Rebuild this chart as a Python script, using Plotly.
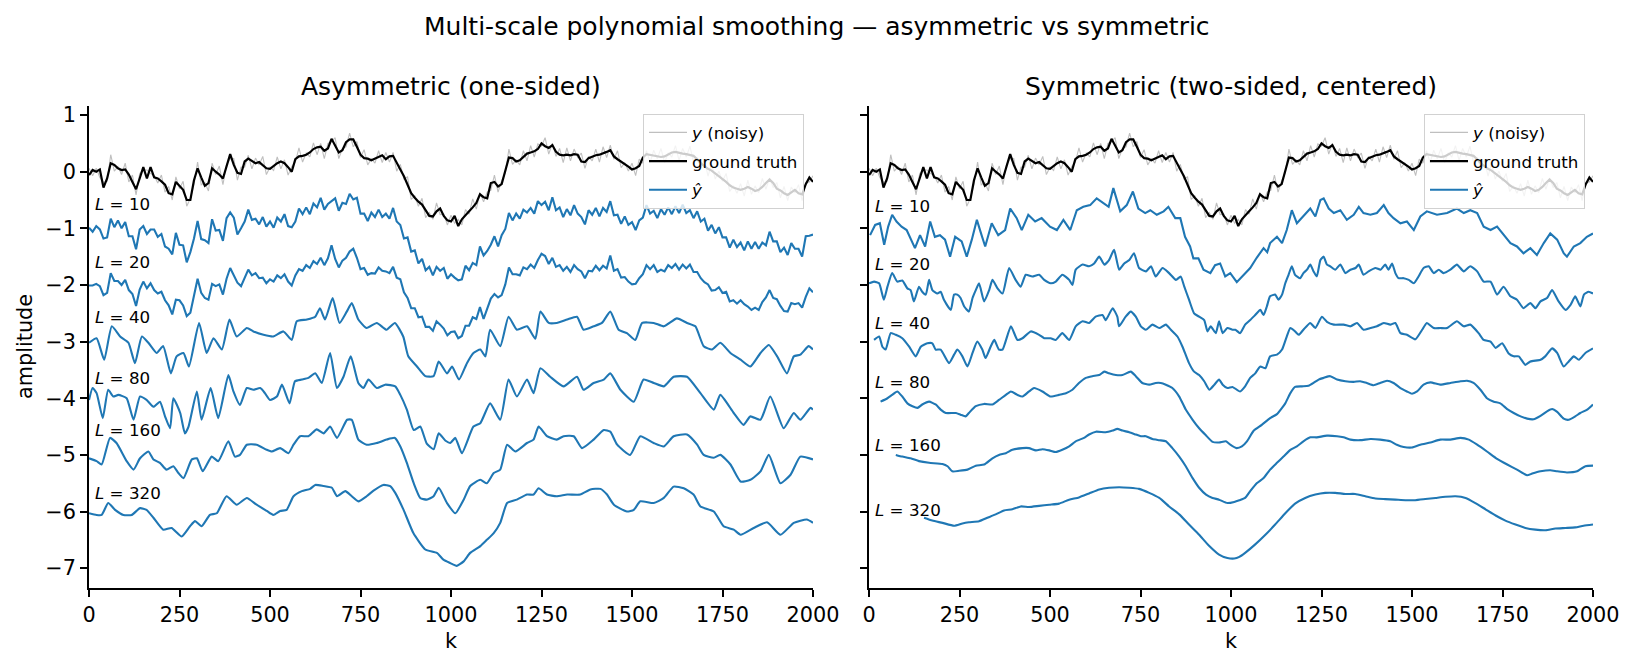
import plotly.graph_objects as go

FONT = "DejaVu Sans"
W, H = 1634, 667
BLUE = "#1f77b4"

# ---------------- data ----------------
STEP = 10  # sample spacing of the dense series (k units)

TRUTH = [-0.06, 0.03, 0.0, 0.04, -0.28, -0.12, 0.15, 0.12, 0.06, 0.03,
         0.04, -0.05, -0.18, -0.31, -0.12, 0.08, -0.12, 0.08, -0.1, -0.12,
         -0.17, -0.23, -0.38, -0.4, -0.18, -0.25, -0.32, -0.5, -0.5, -0.15,
         0.06, -0.1, -0.25, -0.2, 0.06, 0.0, -0.05, -0.12, 0.1, 0.31,
         0.12, -0.02, -0.04, 0.18, 0.23, 0.19, 0.15, 0.17, 0.12, 0.06,
         0.05, 0.1, 0.15, 0.18, 0.15, 0.08, 0.0, 0.22, 0.27, 0.28,
         0.3, 0.34, 0.4, 0.43, 0.44, 0.37, 0.41, 0.58, 0.45, 0.34,
         0.38, 0.52, 0.57, 0.57, 0.44, 0.3, 0.24, 0.23, 0.2, 0.23,
         0.26, 0.29, 0.22, 0.27, 0.28, 0.15, 0.04, -0.08, -0.24, -0.38,
         -0.46, -0.53, -0.58, -0.68, -0.78, -0.79, -0.7, -0.65, -0.78, -0.86,
         -0.88, -0.78, -0.96, -0.84, -0.76, -0.7, -0.63, -0.55, -0.4, -0.45,
         -0.47, -0.2, -0.18, -0.26, -0.22, 0.03, 0.25, 0.24, 0.18, 0.2,
         0.26, 0.32, 0.34, 0.36, 0.4, 0.5, 0.45, 0.42, 0.47, 0.35,
         0.3, 0.29, 0.3, 0.29, 0.31, 0.3, 0.18, 0.17, 0.24, 0.27,
         0.29, 0.3, 0.32, 0.35, 0.38, 0.27, 0.22, 0.18, 0.13, 0.09,
         0.04, 0.06, 0.1, 0.25, 0.31, 0.3, 0.29, 0.28, 0.26, 0.27,
         0.3, 0.34, 0.35, 0.33, 0.32, 0.31, 0.3, 0.28, 0.22, 0.15,
         0.1, 0.05, 0.02, -0.03, -0.08, -0.12, -0.18, -0.24, -0.28, -0.3,
         -0.32, -0.3, -0.27, -0.3, -0.34, -0.32, -0.27, -0.2, -0.14, -0.2,
         -0.3, -0.33, -0.38, -0.41, -0.36, -0.32, -0.38, -0.4, -0.22, -0.1,
         -0.18]

NOISY = [0.06, -0.07, 0.06, -0.10, -0.19, -0.17, 0.30, 0.01, 0.09, -0.05,
         0.15, -0.18, -0.06, -0.41, -0.03, 0.03, 0.03, -0.03, -0.07, -0.20,
         -0.06, -0.36, -0.26, -0.50, -0.09, -0.30, -0.17, -0.61, -0.47, -0.23,
         0.17, -0.23, -0.19, -0.34, 0.15, -0.05, 0.10, -0.23, 0.13, 0.23,
         0.23, -0.15, 0.08, 0.08, 0.29, 0.05, 0.24, 0.12, 0.27, -0.05,
         0.08, 0.02, 0.26, 0.05, 0.21, -0.06, 0.09, 0.17, 0.42, 0.17,
         0.33, 0.26, 0.51, 0.30, 0.50, 0.23, 0.50, 0.53, 0.60, 0.23,
         0.41, 0.44, 0.68, 0.44, 0.53, 0.25, 0.39, 0.12, 0.23, 0.15,
         0.37, 0.16, 0.34, 0.17, 0.34, 0.01, 0.13, -0.13, -0.09, -0.49,
         -0.43, -0.61, -0.47, -0.81, -0.72, -0.84, -0.55, -0.76, -0.75, -0.94,
         -0.77, -0.91, -0.84, -0.94, -0.67, -0.75, -0.48, -0.66, -0.37, -0.53,
         -0.36, -0.33, -0.06, -0.36, -0.16, -0.02, 0.40, 0.13, 0.21, 0.12,
         0.37, 0.19, 0.46, 0.26, 0.49, 0.45, 0.60, 0.31, 0.50, 0.27,
         0.41, 0.16, 0.42, 0.19, 0.40, 0.25, 0.33, 0.06, 0.27, 0.19,
         0.40, 0.17, 0.44, 0.25, 0.47, 0.22, 0.37, 0.07, 0.16, 0.01,
         0.15, -0.07, 0.22, 0.15, 0.37, 0.16, 0.38, 0.23, 0.41, 0.16,
         0.33, 0.26, 0.46, 0.20, 0.41, 0.26, 0.45, 0.17, 0.25, 0.07,
         0.21, -0.08, 0.14, -0.13, 0.01, -0.17, -0.03, -0.35, -0.25, -0.38,
         -0.21, -0.43, -0.15, -0.40, -0.25, -0.37, -0.12, -0.31, -0.11, -0.28,
         -0.19, -0.46, -0.26, -0.51, -0.27, -0.37, -0.23, -0.51, -0.19, -0.18,
         -0.07]

ASYM_L10 = [-0.99, -1.06, -0.96, -1.02, -1.18, -1.16, -0.83, -0.98, -0.86, -1.00,
            -0.89, -1.14, -1.14, -1.37, -1.02, -0.96, -1.10, -1.02, -1.02, -1.15,
            -1.10, -1.32, -1.36, -1.46, -1.08, -1.29, -1.30, -1.60, -1.42, -1.18,
            -0.87, -1.19, -1.21, -1.26, -0.84, -1.04, -1.03, -1.22, -0.82, -0.72,
            -0.81, -1.11, -1.00, -0.88, -0.67, -0.85, -0.83, -0.93, -0.80, -0.97,
            -0.88, -0.99, -0.81, -0.88, -0.75, -0.96, -0.98, -0.88, -0.65, -0.75,
            -0.63, -0.75, -0.56, -0.63, -0.46, -0.67, -0.57, -0.52, -0.47, -0.69,
            -0.55, -0.57, -0.39, -0.49, -0.46, -0.74, -0.74, -0.87, -0.72, -0.80,
            -0.67, -0.80, -0.74, -0.83, -0.64, -0.88, -0.94, -1.18, -1.16, -1.41,
            -1.39, -1.62, -1.54, -1.74, -1.68, -1.83, -1.68, -1.75, -1.70, -1.89,
            -1.81, -1.87, -1.92, -1.90, -1.66, -1.74, -1.61, -1.65, -1.32, -1.48,
            -1.40, -1.29, -1.14, -1.32, -1.12, -1.01, -0.73, -0.86, -0.74, -0.83,
            -0.67, -0.72, -0.64, -0.74, -0.52, -0.59, -0.53, -0.68, -0.45, -0.68,
            -0.63, -0.80, -0.66, -0.77, -0.59, -0.74, -0.80, -0.93, -0.68, -0.76,
            -0.64, -0.79, -0.64, -0.71, -0.52, -0.77, -0.76, -0.92, -0.79, -0.94,
            -0.89, -1.03, -0.86, -0.81, -0.59, -0.74, -0.69, -0.82, -0.66, -0.76,
            -0.63, -0.75, -0.61, -0.73, -0.58, -0.73, -0.68, -0.82, -0.70, -0.88,
            -0.83, -1.04, -0.94, -1.09, -0.98, -1.16, -1.16, -1.34, -1.20, -1.33,
            -1.25, -1.39, -1.23, -1.36, -1.24, -1.36, -1.25, -1.30, -1.06, -1.23,
            -1.23, -1.42, -1.34, -1.47, -1.26, -1.36, -1.36, -1.50, -1.14, -1.13,
            -1.11]

ASYM_L20 = [-2.01, -2.01, -1.98, -2.02, -2.18, -2.14, -1.79, -1.93, -1.93, -2.00,
            -1.91, -2.09, -2.16, -2.37, -2.08, -1.94, -2.06, -1.97, -2.09, -2.15,
            -2.12, -2.27, -2.36, -2.52, -2.26, -2.27, -2.36, -2.55, -2.49, -2.18,
            -1.89, -2.14, -2.23, -2.26, -1.98, -2.02, -1.99, -2.17, -1.89, -1.70,
            -1.83, -1.96, -2.02, -1.88, -1.73, -1.83, -1.79, -1.88, -1.87, -1.97,
            -1.90, -1.94, -1.83, -1.88, -1.81, -1.94, -2.01, -1.83, -1.72, -1.75,
            -1.65, -1.70, -1.58, -1.63, -1.52, -1.65, -1.53, -1.30, -1.54, -1.69,
            -1.57, -1.52, -1.41, -1.36, -1.52, -1.72, -1.70, -1.82, -1.79, -1.80,
            -1.69, -1.75, -1.76, -1.79, -1.68, -1.87, -1.90, -2.13, -2.23, -2.41,
            -2.41, -2.57, -2.56, -2.74, -2.74, -2.81, -2.64, -2.70, -2.77, -2.89,
            -2.83, -2.82, -2.94, -2.90, -2.72, -2.72, -2.57, -2.60, -2.39, -2.60,
            -2.42, -2.24, -2.16, -2.22, -2.18, -1.99, -1.69, -1.81, -1.81, -1.83,
            -1.69, -1.72, -1.64, -1.70, -1.56, -1.45, -1.49, -1.63, -1.52, -1.68,
            -1.65, -1.75, -1.68, -1.77, -1.65, -1.72, -1.76, -1.88, -1.75, -1.76,
            -1.66, -1.74, -1.66, -1.71, -1.48, -1.75, -1.72, -1.87, -1.86, -1.94,
            -1.99, -1.98, -1.88, -1.81, -1.65, -1.72, -1.65, -1.77, -1.73, -1.76,
            -1.65, -1.70, -1.63, -1.73, -1.64, -1.71, -1.64, -1.77, -1.77, -1.88,
            -1.95, -1.99, -2.10, -2.09, -2.04, -2.14, -2.12, -2.29, -2.27, -2.33,
            -2.27, -2.34, -2.38, -2.44, -2.40, -2.44, -2.30, -2.22, -2.09, -2.23,
            -2.25, -2.37, -2.46, -2.47, -2.32, -2.34, -2.32, -2.40, -2.21, -2.06,
            -2.13]

ASYM_L40 = [(0, -3.02), (21, -2.94), (42, -3.32), (63, -2.73), (86, -2.91), (109, -3.02),
            (127, -3.38), (146, -2.91), (164, -3.02), (187, -3.2), (205, -3.08), (226, -3.56),
            (242, -3.26), (261, -3.2), (276, -3.44), (304, -2.67), (325, -3.2), (344, -2.94),
            (367, -3.14), (388, -2.61), (408, -2.91), (436, -2.76), (454, -2.82), (482, -2.88),
            (509, -2.91), (537, -2.82), (560, -2.97), (574, -2.64), (602, -2.61), (625, -2.56),
            (638, -2.41), (652, -2.61), (673, -2.23), (692, -2.67), (712, -2.47), (726, -2.32),
            (744, -2.61), (767, -2.76), (795, -2.67), (822, -2.79), (845, -2.67), (868, -2.91),
            (882, -3.26), (906, -3.44), (929, -3.61), (952, -3.61), (966, -3.35), (989, -3.56),
            (1003, -3.44), (1022, -3.67), (1044, -3.38), (1062, -3.2), (1081, -3.14), (1095, -3.26),
            (1108, -2.79), (1136, -3.08), (1159, -2.56), (1182, -2.79), (1210, -2.73), (1233, -2.95),
            (1247, -2.47), (1270, -2.67), (1292, -2.67), (1321, -2.61), (1348, -2.56), (1366, -2.79),
            (1394, -2.73), (1417, -2.67), (1440, -2.47), (1463, -2.79), (1486, -2.85), (1509, -2.97),
            (1528, -2.67), (1560, -2.67), (1588, -2.73), (1624, -2.59), (1652, -2.67), (1675, -2.73),
            (1698, -3.08), (1721, -3.14), (1744, -3.02), (1772, -3.2), (1800, -3.32), (1827, -3.44),
            (1855, -3.2), (1878, -3.06), (1901, -3.26), (1928, -3.56), (1947, -3.26), (1965, -3.23),
            (1988, -3.08), (2000, -3.14)]

ASYM_L80 = [(0, -4.03), (10, -3.82), (21, -3.91), (38, -4.35), (53, -3.85), (67, -3.97),
            (81, -3.94), (104, -4.0), (123, -4.38), (141, -3.97), (159, -4.03), (178, -4.15),
            (196, -4.06), (210, -4.32), (224, -4.53), (233, -4.0), (252, -4.26), (265, -4.62),
            (275, -4.5), (298, -3.88), (311, -4.38), (336, -3.82), (357, -4.35), (385, -3.59),
            (399, -3.88), (417, -4.12), (436, -3.82), (454, -3.85), (473, -3.82), (486, -3.91),
            (500, -4.03), (519, -3.97), (533, -3.76), (554, -4.09), (569, -3.7), (588, -3.67),
            (606, -3.64), (625, -3.56), (643, -3.73), (666, -3.2), (685, -3.82), (703, -3.62),
            (723, -3.26), (744, -3.73), (758, -3.82), (772, -3.67), (795, -3.82), (818, -3.76),
            (846, -3.79), (860, -3.94), (878, -4.2), (897, -4.56), (915, -4.5), (933, -4.8),
            (952, -4.9), (966, -4.62), (985, -4.75), (998, -4.79), (1012, -4.7), (1030, -4.97),
            (1062, -4.5), (1081, -4.44), (1108, -4.09), (1136, -4.38), (1159, -3.67), (1182, -3.97),
            (1210, -3.67), (1228, -3.91), (1247, -3.47), (1274, -3.62), (1311, -3.79), (1348, -3.62),
            (1366, -3.85), (1394, -3.73), (1422, -3.67), (1440, -3.56), (1468, -3.85), (1505, -4.06),
            (1532, -3.67), (1560, -3.73), (1588, -3.79), (1615, -3.62), (1652, -3.62), (1689, -3.91),
            (1726, -4.2), (1744, -3.94), (1781, -4.26), (1808, -4.47), (1827, -4.32), (1855, -4.38),
            (1882, -3.97), (1919, -4.53), (1947, -4.26), (1965, -4.38), (1993, -4.17), (2000, -4.2)]

ASYM_L160 = [(0, -5.06), (21, -5.11), (35, -5.17), (58, -4.70), (76, -4.79), (104, -5.11),
             (123, -5.26), (141, -5.06), (164, -4.94), (178, -5.08), (196, -5.14), (214, -5.26),
             (233, -5.2), (247, -5.32), (261, -5.41), (284, -5.08), (298, -5.06), (314, -5.29),
             (339, -5.03), (357, -5.11), (385, -4.76), (403, -5.03), (417, -5.0), (436, -4.82),
             (463, -4.82), (491, -4.91), (505, -4.94), (528, -4.88), (551, -4.97), (565, -4.82),
             (583, -4.67), (606, -4.67), (629, -4.55), (648, -4.62), (666, -4.5), (685, -4.70),
             (713, -4.38), (726, -4.38), (744, -4.73), (767, -4.82), (795, -4.79), (822, -4.73),
             (845, -4.70), (860, -4.85), (878, -5.14), (897, -5.5), (915, -5.76), (933, -5.79),
             (952, -5.73), (966, -5.58), (989, -5.85), (1012, -6.03), (1035, -5.79), (1053, -5.55),
             (1081, -5.44), (1099, -5.5), (1118, -5.32), (1136, -5.26), (1155, -4.82), (1178, -4.94),
             (1210, -4.79), (1228, -4.73), (1242, -4.5), (1265, -4.67), (1292, -4.73), (1311, -4.67),
             (1339, -4.67), (1362, -4.88), (1394, -4.73), (1422, -4.56), (1440, -4.59), (1459, -4.82),
             (1495, -5.0), (1523, -4.67), (1560, -4.79), (1588, -4.85), (1615, -4.67), (1652, -4.64),
             (1680, -4.82), (1698, -5.0), (1726, -5.05), (1744, -5.0), (1772, -5.17), (1800, -5.47),
             (1827, -5.44), (1855, -5.29), (1878, -5.0), (1910, -5.5), (1938, -5.35), (1965, -5.03),
             (2000, -5.08)]

ASYM_L320 = [(0, -6.03), (21, -6.06), (35, -6.06), (53, -5.85), (72, -5.97), (95, -6.06),
             (118, -6.06), (141, -5.94), (159, -5.97), (178, -6.11), (205, -6.32), (228, -6.29),
             (256, -6.44), (279, -6.26), (293, -6.17), (311, -6.26), (334, -6.06), (353, -6.03),
             (380, -5.73), (408, -5.88), (436, -5.76), (463, -5.88), (491, -5.99), (509, -6.06),
             (528, -5.99), (546, -5.97), (565, -5.73), (588, -5.64), (611, -5.6), (625, -5.53),
             (648, -5.55), (671, -5.58), (685, -5.73), (708, -5.64), (726, -5.73), (744, -5.82),
             (767, -5.73), (786, -5.63), (813, -5.53), (832, -5.55), (846, -5.67), (869, -5.97),
             (896, -6.38), (929, -6.67), (961, -6.73), (979, -6.85), (998, -6.91), (1016, -6.96),
             (1035, -6.88), (1053, -6.73), (1081, -6.61), (1099, -6.5), (1118, -6.38), (1136, -6.2),
             (1155, -5.85), (1182, -5.79), (1210, -5.7), (1228, -5.7), (1242, -5.59), (1265, -5.7),
             (1292, -5.73), (1321, -5.7), (1357, -5.7), (1385, -5.61), (1413, -5.6), (1431, -5.7),
             (1450, -5.88), (1486, -6.0), (1505, -5.97), (1523, -5.82), (1560, -5.85), (1588, -5.76),
             (1615, -5.56), (1643, -5.59), (1670, -5.7), (1689, -5.91), (1726, -6.0), (1753, -6.26),
             (1781, -6.32), (1800, -6.41), (1836, -6.29), (1873, -6.19), (1910, -6.41), (1947, -6.2),
             (1983, -6.14), (2000, -6.2)]

SYM_L10 = [(3, -1.12), (17, -0.94), (30, -0.91), (42, -1.29), (53, -0.97), (64, -0.76),
           (76, -0.88), (90, -0.97), (104, -1.03), (113, -1.15), (127, -1.35), (141, -1.12),
           (155, -1.32), (169, -0.88), (182, -1.15), (196, -1.12), (210, -1.2), (224, -1.5),
           (238, -1.15), (256, -1.23), (270, -1.5), (284, -1.2), (298, -0.85), (311, -1.12),
           (321, -1.32), (339, -0.91), (357, -1.12), (376, -1.03), (390, -0.65), (408, -0.82),
           (422, -1.03), (440, -0.76), (459, -0.88), (477, -0.82), (500, -0.97), (519, -1.03),
           (537, -0.85), (556, -1.03), (574, -0.68), (592, -0.62), (611, -0.59), (629, -0.47),
           (648, -0.56), (662, -0.62), (675, -0.29), (694, -0.7), (712, -0.59), (729, -0.35),
           (744, -0.65), (763, -0.73), (777, -0.68), (795, -0.76), (814, -0.7), (827, -0.62),
           (846, -0.82), (860, -0.82), (873, -1.15), (887, -1.32), (896, -1.53), (910, -1.53),
           (924, -1.73), (943, -1.79), (956, -1.65), (970, -1.62), (984, -1.85), (998, -1.79),
           (1016, -1.95), (1035, -1.82), (1053, -1.7), (1071, -1.52), (1090, -1.35), (1100, -1.42),
           (1108, -1.26), (1127, -1.15), (1141, -1.26), (1154, -1.03), (1168, -0.68), (1182, -0.91),
           (1200, -0.79), (1219, -0.65), (1233, -0.79), (1247, -0.50), (1256, -0.47), (1270, -0.65),
           (1284, -0.73), (1302, -0.68), (1320, -0.85), (1339, -0.76), (1353, -0.62), (1366, -0.73),
           (1385, -0.76), (1403, -0.73), (1422, -0.59), (1435, -0.73), (1449, -0.82), (1468, -0.91),
           (1486, -0.88), (1505, -1.03), (1523, -0.79), (1541, -0.70), (1569, -0.76), (1597, -0.73),
           (1624, -0.65), (1643, -0.73), (1661, -0.68), (1680, -0.73), (1698, -0.97), (1717, -1.03),
           (1735, -0.97), (1753, -1.12), (1772, -1.26), (1790, -1.32), (1808, -1.44), (1827, -1.35),
           (1845, -1.47), (1864, -1.26), (1882, -1.09), (1901, -1.20), (1919, -1.44), (1928, -1.50),
           (1947, -1.32), (1965, -1.26), (1983, -1.15), (2000, -1.09)]

SYM_L20 = [(0, -1.97), (14, -1.94), (28, -1.97), (41, -2.26), (51, -2.03), (64, -1.79),
           (78, -1.94), (92, -1.92), (106, -2.06), (115, -2.09), (124, -2.29), (138, -2.03),
           (147, -2.12), (157, -2.17), (166, -1.91), (175, -2.09), (189, -2.15), (198, -2.12),
           (207, -2.26), (226, -2.44), (235, -2.17), (244, -2.17), (253, -2.23), (263, -2.38),
           (276, -2.47), (286, -2.23), (295, -2.09), (304, -1.97), (318, -2.29), (332, -2.09),
           (341, -1.91), (355, -2.06), (369, -2.15), (387, -1.70), (405, -1.91), (419, -2.03),
           (433, -1.82), (451, -1.85), (470, -1.82), (484, -1.91), (502, -1.97), (516, -1.94),
           (534, -1.82), (553, -1.91), (562, -2.0), (571, -1.73), (590, -1.64), (608, -1.67),
           (622, -1.62), (636, -1.5), (650, -1.64), (663, -1.56), (677, -1.38), (691, -1.73),
           (705, -1.62), (719, -1.56), (732, -1.44), (746, -1.70), (765, -1.76), (779, -1.67),
           (792, -1.85), (811, -1.70), (829, -1.79), (848, -1.91), (861, -1.85), (871, -2.03),
           (884, -2.26), (898, -2.5), (912, -2.56), (926, -2.62), (935, -2.82), (944, -2.73),
           (958, -2.85), (967, -2.64), (977, -2.85), (990, -2.76), (1004, -2.79), (1012, -2.79),
           (1025, -2.85), (1039, -2.70), (1053, -2.62), (1067, -2.53), (1081, -2.44), (1090, -2.53),
           (1099, -2.38), (1108, -2.20), (1122, -2.17), (1131, -2.26), (1141, -2.17), (1150, -1.97),
           (1159, -1.82), (1168, -1.67), (1177, -1.82), (1191, -1.88), (1200, -1.79), (1210, -1.73),
           (1219, -1.64), (1228, -1.76), (1237, -1.85), (1247, -1.56), (1256, -1.50), (1265, -1.64),
           (1274, -1.67), (1288, -1.73), (1302, -1.64), (1316, -1.79), (1330, -1.73), (1344, -1.70),
           (1353, -1.64), (1366, -1.82), (1380, -1.76), (1399, -1.70), (1413, -1.73), (1426, -1.64),
           (1435, -1.73), (1445, -1.62), (1454, -1.79), (1463, -1.88), (1477, -1.88), (1491, -1.91),
           (1505, -1.97), (1518, -1.85), (1532, -1.70), (1546, -1.67), (1560, -1.79), (1574, -1.73),
           (1587, -1.79), (1606, -1.73), (1624, -1.64), (1643, -1.76), (1661, -1.67), (1680, -1.76),
           (1698, -1.94), (1717, -1.94), (1735, -2.17), (1753, -2.03), (1772, -2.20), (1790, -2.26),
           (1808, -2.41), (1827, -2.32), (1841, -2.41), (1855, -2.29), (1873, -2.23), (1887, -2.09),
           (1905, -2.29), (1924, -2.44), (1938, -2.35), (1951, -2.20), (1965, -2.38), (1975, -2.17),
           (1988, -2.12), (2000, -2.15)]

SYM_L40 = [(14, -2.97), (28, -2.91), (37, -3.09), (46, -3.14), (60, -2.85), (74, -2.88),
           (92, -2.94), (111, -3.09), (129, -3.26), (143, -3.09), (161, -3.03), (175, -3.03),
           (184, -3.14), (198, -3.14), (221, -3.38), (235, -3.23), (244, -3.14), (258, -3.26),
           (272, -3.44), (286, -3.2), (299, -3.0), (313, -3.14), (322, -3.29), (336, -3.09),
           (346, -2.97), (359, -3.14), (369, -3.14), (392, -2.73), (410, -2.97), (424, -2.94),
           (447, -2.82), (470, -2.88), (484, -2.94), (502, -2.94), (516, -2.97), (534, -2.85),
           (553, -2.97), (571, -2.73), (590, -2.64), (608, -2.67), (626, -2.56), (645, -2.53),
           (654, -2.62), (673, -2.41), (686, -2.56), (691, -2.73), (709, -2.56), (723, -2.47),
           (737, -2.56), (751, -2.73), (765, -2.79), (783, -2.70), (802, -2.76), (820, -2.70),
           (834, -2.79), (852, -2.91), (866, -3.09), (884, -3.38), (898, -3.53), (912, -3.59),
           (926, -3.70), (940, -3.85), (954, -3.76), (967, -3.67), (977, -3.76), (990, -3.82),
           (1004, -3.80), (1025, -3.88), (1039, -3.79), (1053, -3.64), (1067, -3.56), (1081, -3.44),
           (1095, -3.47), (1108, -3.26), (1127, -3.23), (1141, -3.14), (1154, -2.91), (1164, -2.76),
           (1177, -2.82), (1187, -2.88), (1200, -2.79), (1219, -2.67), (1233, -2.76), (1251, -2.56),
           (1265, -2.65), (1284, -2.70), (1311, -2.70), (1330, -2.73), (1348, -2.67), (1366, -2.79),
           (1385, -2.76), (1403, -2.73), (1422, -2.67), (1440, -2.70), (1454, -2.67), (1468, -2.85),
           (1486, -2.88), (1509, -2.96), (1528, -2.79), (1541, -2.67), (1560, -2.76), (1578, -2.76),
           (1597, -2.76), (1624, -2.64), (1643, -2.73), (1661, -2.70), (1684, -2.85), (1698, -2.97),
           (1717, -3.0), (1731, -3.11), (1749, -3.03), (1767, -3.21), (1781, -3.26), (1795, -3.26),
           (1813, -3.41), (1827, -3.35), (1855, -3.32), (1868, -3.26), (1887, -3.12), (1901, -3.20),
           (1919, -3.44), (1933, -3.35), (1947, -3.26), (1961, -3.32), (1979, -3.20), (2000, -3.12)]

SYM_L80 = [(32, -4.06), (51, -4.0), (64, -3.94), (78, -3.88), (92, -3.97), (106, -4.09),
           (120, -4.14), (134, -4.17), (147, -4.11), (166, -4.06), (184, -4.11), (198, -4.2),
           (212, -4.26), (240, -4.26), (253, -4.29), (267, -4.32), (276, -4.26), (295, -4.14),
           (318, -4.10), (341, -4.11), (359, -4.03), (378, -3.94), (392, -3.88), (410, -3.94),
           (424, -3.97), (442, -3.88), (456, -3.82), (479, -3.88), (502, -3.97), (525, -3.94),
           (544, -3.91), (562, -3.85), (580, -3.73), (599, -3.64), (617, -3.61), (636, -3.59),
           (650, -3.53), (663, -3.56), (682, -3.59), (700, -3.59), (723, -3.53), (737, -3.61),
           (755, -3.73), (774, -3.76), (792, -3.73), (806, -3.73), (820, -3.76), (838, -3.82),
           (857, -3.97), (875, -4.2), (894, -4.38), (912, -4.53), (930, -4.65), (949, -4.77),
           (967, -4.78), (986, -4.76), (998, -4.82), (1015, -4.88), (1030, -4.85), (1044, -4.76),
           (1063, -4.57), (1085, -4.47), (1108, -4.35), (1127, -4.28), (1141, -4.17), (1150, -4.09),
           (1164, -3.91), (1177, -3.80), (1196, -3.79), (1214, -3.78), (1228, -3.73), (1242, -3.67),
           (1256, -3.64), (1274, -3.61), (1293, -3.67), (1316, -3.70), (1339, -3.71), (1357, -3.70),
           (1375, -3.73), (1394, -3.77), (1412, -3.73), (1431, -3.69), (1449, -3.73), (1468, -3.82),
           (1486, -3.88), (1500, -3.92), (1514, -3.88), (1532, -3.76), (1551, -3.72), (1578, -3.76),
           (1606, -3.73), (1634, -3.70), (1652, -3.69), (1670, -3.73), (1689, -3.85), (1707, -4.0),
           (1726, -4.06), (1744, -4.09), (1763, -4.19), (1781, -4.26), (1800, -4.32), (1818, -4.36),
           (1836, -4.37), (1855, -4.31), (1873, -4.23), (1887, -4.19), (1901, -4.24), (1919, -4.36),
           (1933, -4.38), (1951, -4.32), (1965, -4.26), (1984, -4.20), (2000, -4.11)]

SYM_L160 = [(74, -5.0), (92, -5.03), (115, -5.06), (138, -5.11), (166, -5.14), (203, -5.16),
            (217, -5.20), (230, -5.29), (249, -5.28), (272, -5.26), (295, -5.19), (318, -5.17),
            (341, -5.06), (359, -5.0), (378, -4.97), (396, -4.91), (424, -4.88), (442, -4.88),
            (461, -4.92), (479, -4.90), (498, -4.92), (516, -4.95), (534, -4.91), (553, -4.85),
            (571, -4.76), (594, -4.70), (608, -4.64), (627, -4.59), (654, -4.60), (673, -4.57),
            (686, -4.54), (700, -4.57), (719, -4.60), (737, -4.64), (751, -4.67), (765, -4.67),
            (783, -4.72), (802, -4.74), (820, -4.76), (838, -4.88), (857, -5.03), (875, -5.20),
            (894, -5.41), (912, -5.58), (931, -5.70), (949, -5.76), (967, -5.79), (990, -5.85),
            (1009, -5.83), (1023, -5.80), (1039, -5.76), (1053, -5.64), (1071, -5.50), (1090, -5.41),
            (1108, -5.26), (1127, -5.14), (1145, -5.03), (1164, -4.91), (1182, -4.85), (1200, -4.76),
            (1219, -4.69), (1237, -4.69), (1265, -4.66), (1293, -4.67), (1311, -4.69), (1330, -4.73),
            (1357, -4.74), (1385, -4.72), (1412, -4.73), (1440, -4.76), (1458, -4.82), (1477, -4.86),
            (1500, -4.87), (1523, -4.82), (1551, -4.78), (1578, -4.73), (1606, -4.73), (1634, -4.70),
            (1657, -4.73), (1680, -4.82), (1707, -4.94), (1735, -5.07), (1763, -5.17), (1790, -5.26),
            (1818, -5.36), (1832, -5.33), (1855, -5.29), (1882, -5.27), (1901, -5.29), (1928, -5.31),
            (1956, -5.29), (1979, -5.20), (2000, -5.19)]

SYM_L320 = [(152, -6.11), (175, -6.16), (203, -6.20), (235, -6.25), (258, -6.21), (276, -6.19),
            (304, -6.17), (327, -6.11), (350, -6.05), (373, -5.98), (396, -5.96), (419, -5.91),
            (442, -5.92), (470, -5.90), (498, -5.88), (525, -5.86), (553, -5.79), (580, -5.75),
            (608, -5.68), (636, -5.61), (663, -5.58), (691, -5.57), (719, -5.58), (746, -5.60),
            (774, -5.67), (802, -5.76), (829, -5.91), (857, -6.05), (884, -6.23), (912, -6.41),
            (940, -6.61), (967, -6.76), (990, -6.82), (1009, -6.83), (1023, -6.80), (1039, -6.73),
            (1067, -6.58), (1095, -6.41), (1122, -6.23), (1150, -6.03), (1177, -5.86), (1205, -5.76),
            (1233, -5.70), (1260, -5.67), (1288, -5.67), (1316, -5.69), (1343, -5.69), (1371, -5.73),
            (1399, -5.77), (1426, -5.78), (1454, -5.79), (1482, -5.80), (1509, -5.80), (1537, -5.78),
            (1565, -5.76), (1592, -5.74), (1620, -5.73), (1648, -5.76), (1675, -5.85), (1703, -5.96),
            (1731, -6.07), (1758, -6.16), (1786, -6.23), (1813, -6.29), (1841, -6.32), (1869, -6.33),
            (1896, -6.30), (1924, -6.29), (1951, -6.28), (1974, -6.25), (2000, -6.23)]

SCALES = [10, 20, 40, 80, 160, 320]
ASYM_LABEL_Y = [-0.57, -1.59, -2.56, -3.64, -4.56, -5.67]
SYM_LABEL_Y = [-0.61, -1.63, -2.67, -3.72, -4.83, -5.97]
X_TICKS = [0, 250, 500, 750, 1000, 1250, 1500, 1750, 2000]
Y_TICKS = [-7, -6, -5, -4, -3, -2, -1, 0, 1]

# ---------------- figure ----------------
K_DENSE = [STEP * i for i in range(len(TRUTH))]


def grid(vals):
    return [STEP * i for i in range(len(vals))], vals


def split(pairs):
    return [p[0] for p in pairs], [p[1] for p in pairs]


asym_series = [grid(ASYM_L10), grid(ASYM_L20), split(ASYM_L40), split(ASYM_L80),
               split(ASYM_L160), split(ASYM_L320)]
sym_series = [split(p) for p in (SYM_L10, SYM_L20, SYM_L40, SYM_L80, SYM_L160, SYM_L320)]
# curves read at sparse points get a spline rendering, dense noisy ones stay linear
asym_shape = ["linear", "linear", "spline", "spline", "spline", "spline"]
sym_shape = ["linear", "spline", "spline", "spline", "spline", "spline"]

fig = go.Figure()

for col, (xa, ya, leg) in enumerate([("x", "y", "legend"), ("x2", "y2", "legend2")]):
    fig.add_trace(go.Scatter(x=K_DENSE, y=NOISY, mode="lines", name="<i>y</i> (noisy)",
                             line=dict(color="rgba(128,128,128,0.5)", width=1.1),
                             legendgroup=f"n{col}", xaxis=xa, yaxis=ya, legend=leg))
    fig.add_trace(go.Scatter(x=K_DENSE, y=TRUTH, mode="lines", name="ground truth",
                             line=dict(color="black", width=2.2),
                             legendgroup=f"t{col}", xaxis=xa, yaxis=ya, legend=leg))
    series = asym_series if col == 0 else sym_series
    shapes = asym_shape if col == 0 else sym_shape
    for j, ((kk, vv), shp) in enumerate(zip(series, shapes)):
        fig.add_trace(go.Scatter(x=kk, y=vv, mode="lines", name="<i>ŷ</i>",
                                 line=dict(color=BLUE, width=2.1, shape=shp, smoothing=0.5),
                                 showlegend=(j == 0), legendgroup=f"h{col}",
                                 xaxis=xa, yaxis=ya, legend=leg))

LEFT = (89, 813)
RIGHT = (869, 1593)
TOP, BOTTOM = 106, 588


def px_x(p):
    return p / W


def px_y(p):
    return 1 - p / H


axis_common = dict(showline=True, linecolor="black", linewidth=1.67,
                   ticks="outside", ticklen=7, tickwidth=1.67, tickcolor="black",
                   tickfont=dict(family=FONT, size=20.8, color="black"),
                   showgrid=False, zeroline=False, mirror=False)

fig.update_layout(
    width=W, height=H, template="none",
    margin=dict(l=0, r=0, t=0, b=0, pad=0),
    paper_bgcolor="white", plot_bgcolor="white",
    font=dict(family=FONT, color="black"),
    xaxis=dict(domain=[px_x(LEFT[0]), px_x(LEFT[1])], range=[0, 2000], tickvals=X_TICKS,
               anchor="y", automargin=False, **axis_common),
    xaxis2=dict(domain=[px_x(RIGHT[0]), px_x(RIGHT[1])], range=[0, 2000], tickvals=X_TICKS,
                anchor="y2", automargin=False, **axis_common),
    yaxis=dict(domain=[px_y(BOTTOM), px_y(TOP)], range=[-7.35, 1.16], tickvals=Y_TICKS,
               anchor="x", automargin=False, **axis_common),
    yaxis2=dict(domain=[px_y(BOTTOM), px_y(TOP)], range=[-7.35, 1.16], tickvals=Y_TICKS,
                anchor="x2", matches="y", showticklabels=False, automargin=False, **axis_common),
    showlegend=True,
)

legend_common = dict(xanchor="right", yanchor="top", y=px_y(114),
                     bgcolor="rgba(255,255,255,0.8)", bordercolor="rgba(204,204,204,0.9)",
                     borderwidth=1, font=dict(family=FONT, size=16.7, color="black"),
                     tracegroupgap=4, itemwidth=38)
fig.update_layout(legend=dict(x=px_x(804), **legend_common),
                  legend2=dict(x=px_x(1585), **legend_common))

ann = []
ann.append(dict(text="Multi-scale polynomial smoothing — asymmetric vs symmetric",
                x=0.5, y=px_y(26), xref="paper", yref="paper", showarrow=False,
                xanchor="center", yanchor="middle", font=dict(family=FONT, size=25, color="black")))
ann.append(dict(text="Asymmetric (one-sided)", x=px_x(sum(LEFT) / 2), y=px_y(86),
                xref="paper", yref="paper", showarrow=False, xanchor="center", yanchor="middle",
                font=dict(family=FONT, size=25, color="black")))
ann.append(dict(text="Symmetric (two-sided, centered)", x=px_x(sum(RIGHT) / 2), y=px_y(86),
                xref="paper", yref="paper", showarrow=False, xanchor="center", yanchor="middle",
                font=dict(family=FONT, size=25, color="black")))
for cx in (sum(LEFT) / 2, sum(RIGHT) / 2):
    ann.append(dict(text="k", x=px_x(cx), y=px_y(641), xref="paper", yref="paper",
                    showarrow=False, xanchor="center", yanchor="middle",
                    font=dict(family=FONT, size=20.8, color="black")))
ann.append(dict(text="amplitude", x=px_x(25), y=px_y((TOP + BOTTOM) / 2), xref="paper", yref="paper",
                showarrow=False, xanchor="center", yanchor="middle", textangle=-90,
                font=dict(family=FONT, size=20.8, color="black")))
for L, ya_val in zip(SCALES, ASYM_LABEL_Y):
    ann.append(dict(text=f"<i>L</i> = {L}", x=10, y=ya_val, xref="x", yref="y", showarrow=False,
                    xanchor="left", yanchor="middle", font=dict(family=FONT, size=16.7, color="black")))
for L, ya_val in zip(SCALES, SYM_LABEL_Y):
    ann.append(dict(text=f"<i>L</i> = {L}", x=10, y=ya_val, xref="x2", yref="y2", showarrow=False,
                    xanchor="left", yanchor="middle", font=dict(family=FONT, size=16.7, color="black")))
fig.update_layout(annotations=ann)

fig.write_html("out.html")
